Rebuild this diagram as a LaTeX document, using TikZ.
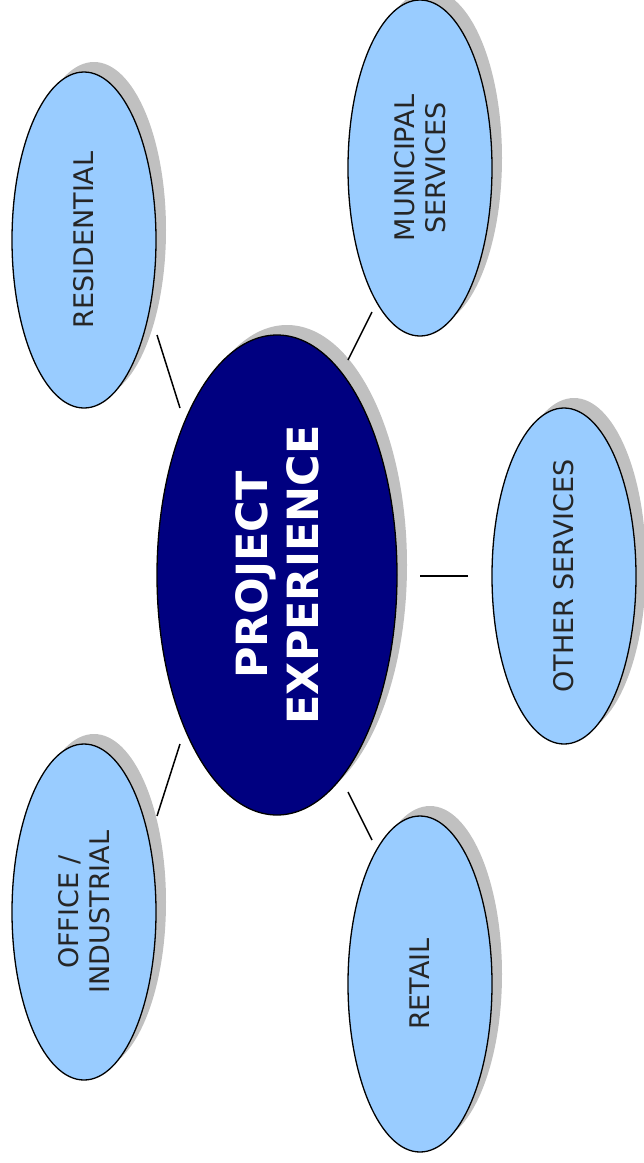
\documentclass[tikz,border=0pt]{standalone}
\usepackage{fontspec}
\setmainfont{DejaVu Sans}
\usetikzlibrary{shapes.geometric,shadows,positioning}
\definecolor{topicblue}{HTML}{99CCFF}
\definecolor{hubblue}{HTML}{000080}
\definecolor{shadowgray}{HTML}{C0C0C0}

\begin{document}
\begin{tikzpicture}
	[x=1pt,y=-1pt,
	topic/.style={ellipse,draw=black,line width=1.3pt,fill=topicblue,
		minimum width=336pt,minimum height=144pt,inner sep=0pt,rotate=90,
		align=center,font=\fontsize{27}{31}\selectfont,text=black!85,
		drop shadow={shadow xshift=10pt,shadow yshift=10pt,fill=shadowgray,opacity=1}},
	hub/.style={topic,fill=hubblue,minimum width=480pt,minimum height=240pt,
		text=white,font=\fontsize{43}{51}\selectfont\bfseries},
	link/.style={line width=1.5pt}]
	\useasboundingbox (0,0) rectangle (644,1163);
	\node [hub] (hub) at (277,575) {PROJECT\\EXPERIENCE};
	\node [topic] (res) at (84,240) {RESIDENTIAL};
	\node [topic] (mun) at (420,168) {MUNICIPAL\\SERVICES};
	\node [topic] (oth) at (564,576) {OTHER SERVICES};
	\node [topic] (ret) at (420,984) {RETAIL};
	\node [topic] (off) at (84,912) {OFFICE /\\INDUSTRIAL};
	% connector ends
	\coordinate (res-a) at (157,335); \coordinate (res-b) at (180,408);
	\coordinate (mun-a) at (372,312); \coordinate (mun-b) at (348,360);
	\coordinate (oth-a) at (468,576); \coordinate (oth-b) at (420,576);
	\coordinate (ret-a) at (372,840); \coordinate (ret-b) at (348,792);
	\coordinate (off-a) at (157,816); \coordinate (off-b) at (180,744);
	\draw [link] (res-a) -- (res-b);
	\draw [link] (mun-a) -- (mun-b);
	\draw [link] (oth-a) -- (oth-b);
	\draw [link] (ret-a) -- (ret-b);
	\draw [link] (off-a) -- (off-b);
\end{tikzpicture}
\end{document}
